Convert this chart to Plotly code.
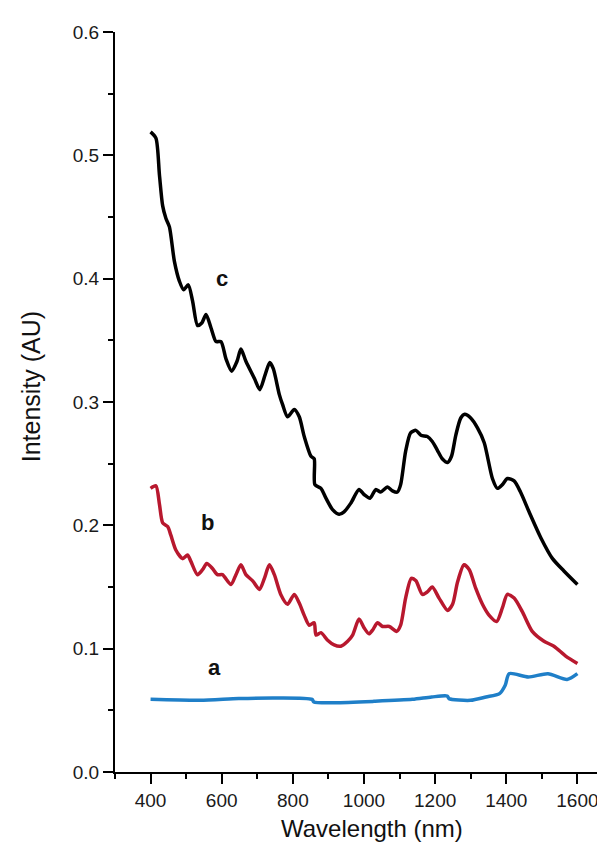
import plotly.graph_objects as go

# Curve c (black)
wl_c = [400, 415, 425, 434, 443, 453, 467, 481, 493, 506,
        518, 532, 544, 556, 570, 584, 598, 612, 628, 643,
        654, 668, 692, 707, 722, 735, 745, 762, 771, 785,
        804, 818, 832, 851, 860, 862, 879, 893, 911, 930,
        944, 963, 986, 1000, 1017, 1033, 1047, 1066, 1080, 1094,
        1103, 1117, 1131, 1146, 1160, 1178, 1192, 1206, 1220, 1235,
        1246, 1258, 1272, 1283, 1300, 1319, 1338, 1361, 1375, 1389,
        1403, 1422, 1440, 1464, 1497, 1530, 1562, 1600]
int_c = [0.519, 0.514, 0.484, 0.459, 0.449, 0.442, 0.414, 0.398, 0.391, 0.395,
         0.382, 0.362, 0.364, 0.371, 0.360, 0.349, 0.349, 0.335, 0.325, 0.333,
         0.343, 0.333, 0.319, 0.310, 0.322, 0.332, 0.327, 0.306, 0.298, 0.288,
         0.294, 0.288, 0.272, 0.256, 0.254, 0.233, 0.230, 0.222, 0.213, 0.209,
         0.211, 0.218, 0.229, 0.225, 0.222, 0.229, 0.227, 0.231, 0.228, 0.227,
         0.233, 0.260, 0.275, 0.277, 0.273, 0.272, 0.268, 0.261, 0.254, 0.251,
         0.256, 0.273, 0.287, 0.290, 0.287, 0.279, 0.267, 0.238, 0.230, 0.233,
         0.238, 0.236, 0.227, 0.211, 0.190, 0.173, 0.163, 0.152]

# Curve b (red)
wl_b = [400, 415, 425, 434, 448, 457, 471, 490, 504, 513,
        532, 546, 558, 574, 588, 602, 626, 640, 654, 668,
        687, 706, 720, 734, 748, 766, 785, 804, 818, 832,
        846, 860, 865, 879, 897, 916, 935, 954, 968, 986,
        1000, 1014, 1024, 1038, 1052, 1071, 1092, 1103, 1117, 1133,
        1146, 1164, 1178, 1192, 1211, 1235, 1249, 1263, 1281, 1296,
        1314, 1333, 1352, 1373, 1389, 1403, 1422, 1445, 1473, 1506,
        1534, 1567, 1600]
int_b = [0.230, 0.232, 0.217, 0.202, 0.199, 0.192, 0.180, 0.173, 0.176, 0.171,
         0.160, 0.164, 0.169, 0.165, 0.160, 0.160, 0.152, 0.160, 0.168, 0.160,
         0.155, 0.148, 0.157, 0.168, 0.160, 0.144, 0.136, 0.144, 0.137, 0.127,
         0.119, 0.121, 0.111, 0.113, 0.107, 0.103, 0.102, 0.106, 0.111, 0.124,
         0.117, 0.112, 0.115, 0.121, 0.118, 0.118, 0.114, 0.119, 0.141, 0.157,
         0.155, 0.144, 0.146, 0.150, 0.141, 0.131, 0.136, 0.154, 0.168, 0.164,
         0.149, 0.136, 0.127, 0.122, 0.133, 0.144, 0.141, 0.130, 0.114, 0.106,
         0.102, 0.094, 0.088]

# Curve a (blue)
wl_a = [400, 539, 648, 756, 854, 859, 919, 1028, 1136, 1190,
        1234, 1239, 1299, 1343, 1381, 1397, 1408, 1462, 1517, 1571, 1600]
int_a = [0.0589, 0.0581, 0.0595, 0.0600, 0.0589, 0.0568, 0.0562, 0.0573, 0.0589, 0.0608,
         0.0616, 0.0595, 0.0581, 0.0608, 0.0635, 0.0703, 0.0797, 0.0770, 0.0797, 0.0750, 0.0797]

curve_labels = ["a", "b", "c"]
label_x = [579, 560, 600]
label_y = [0.085, 0.202, 0.400]

x_ticks = [400, 600, 800, 1000, 1200, 1400, 1600]
y_ticks = [0.0, 0.1, 0.2, 0.3, 0.4, 0.5, 0.6]

FONT = "Liberation Sans, Arial, Helvetica, sans-serif"

fig = go.Figure()
fig.add_trace(go.Scatter(x=wl_a, y=int_a, mode="lines",
                         line=dict(color="#1f7fc8", width=3.5, shape="spline", smoothing=0.7)))
fig.add_trace(go.Scatter(x=wl_b, y=int_b, mode="lines",
                         line=dict(color="#b8182e", width=3.5, shape="spline", smoothing=0.7)))
fig.add_trace(go.Scatter(x=wl_c, y=int_c, mode="lines",
                         line=dict(color="#000000", width=3.5, shape="spline", smoothing=0.7)))

for t, lx, ly in zip(curve_labels, label_x, label_y):
    fig.add_annotation(x=lx, y=ly, text="<b>%s</b>" % t, showarrow=False,
                       font=dict(family=FONT, size=22, color="#111"),
                       xanchor="center", yanchor="middle")

fig.add_annotation(xref="paper", yref="paper", x=0.516, y=-0.077,
                   text="Wavelength (nm)", showarrow=False,
                   font=dict(family=FONT, size=24, color="#111"),
                   xanchor="center", yanchor="middle")
fig.add_annotation(xref="paper", yref="paper", x=-0.167, y=0.521,
                   text="Intensity (AU)", showarrow=False, textangle=-90,
                   font=dict(family=FONT, size=25, color="#111"),
                   xanchor="center", yanchor="middle")

axis_common = dict(showline=True, linecolor="black", linewidth=2, showgrid=False,
                   zeroline=False, ticks="outside", ticklen=10, tickwidth=2,
                   tickcolor="black", tickfont=dict(family=FONT, size=19, color="#1a1a1a"))

fig.update_xaxes(range=[300, 1700], tickvals=x_ticks,
                 ticktext=[str(v) for v in x_ticks],
                 minor=dict(tickvals=[300, 500, 700, 900, 1100, 1300, 1500],
                            ticklen=5, tickwidth=2, ticks="outside", tickcolor="black"),
                 **axis_common)
fig.update_yaxes(range=[0, 0.6], tickvals=y_ticks,
                 ticktext=["%.1f" % v for v in y_ticks],
                 minor=dict(tickvals=[0.05, 0.15, 0.25, 0.35, 0.45, 0.55],
                            ticklen=5, tickwidth=2, ticks="outside", tickcolor="black"),
                 **axis_common)

fig.update_layout(width=605, height=842, showlegend=False,
                  margin=dict(l=107, r=0, t=24, b=78, autoexpand=False),
                  plot_bgcolor="white", paper_bgcolor="white")

fig.write_html("out.html")
